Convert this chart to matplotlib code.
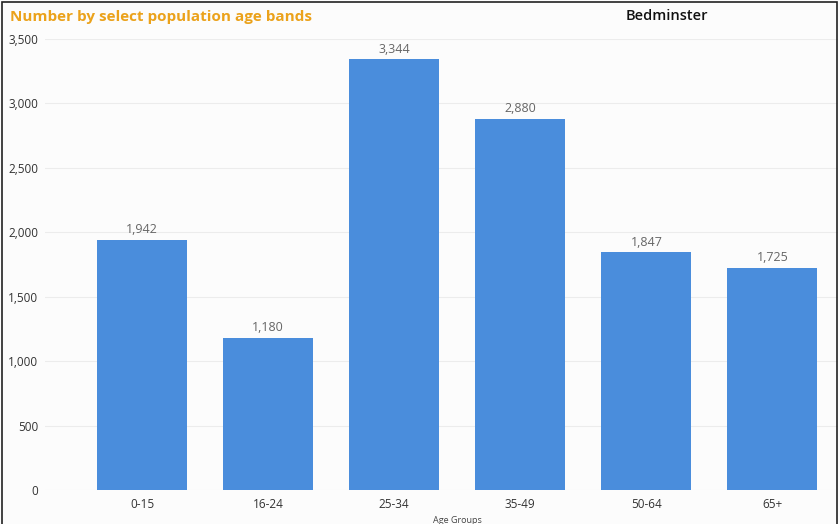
import matplotlib
matplotlib.use("Agg")
import matplotlib.pyplot as plt
from matplotlib.patches import Rectangle

categories = ["0-15", "16-24", "25-34", "35-49", "50-64", "65+"]
values = [1942, 1180, 3344, 2880, 1847, 1725]
yticks = [0, 500, 1000, 1500, 2000, 2500, 3000, 3500]

plt.rcParams['font.family'] = ['Open Sans', 'DejaVu Sans']

fig = plt.figure(figsize=(8.4, 5.24), dpi=100)
fig.patch.set_facecolor('#fcfcfc')
ax = fig.add_axes([45/840, 1-490/524, (838-45)/840, (490-39)/524])
ax.set_facecolor('#fcfcfc')

x = list(range(len(categories)))
ax.bar(x, values, width=0.714, color='#4a8ddc', zorder=3)
for xi, v in zip(x, values):
    ax.annotate(f"{v:,}", (xi, v), xytext=(0, 2.5), textcoords='offset points',
                ha='center', va='bottom', fontsize=9, color='#666666')

ax.set_xlim(-0.77, 5.52)
ax.set_ylim(0, 3500)
ax.set_yticks(yticks)
ax.set_yticklabels([f"{t:,}" for t in yticks])
ax.set_xticks(x)
ax.set_xticklabels(categories)
ax.tick_params(axis='both', length=0, labelsize=8.5, labelcolor='#333333')
ax.tick_params(axis='y', pad=5)
ax.tick_params(axis='x', pad=6)
ax.grid(axis='y', color='#ececec', lw=0.8, zorder=0)
for s in ax.spines.values():
    s.set_visible(False)

ax.text(2.5, -0.058, "Age Groups", transform=ax.get_xaxis_transform(),
        ha='center', va='top', fontsize=6.5, color='#444444')

fig.text(10/840, 1-17/524, "Number by select population age bands", ha='left', va='center',
         fontsize=11, fontweight='bold', color='#eba21b')
fig.text(667/840, 1-16/524, "Bedminster", ha='center', va='center',
         fontsize=10.5, fontweight='semibold', color='#111111')

fig.patches.append(Rectangle((2/840, -0.01), 835/840, 1-2/524+0.01, transform=fig.transFigure,
                             fill=False, edgecolor='#222222', lw=1.2))

fig.savefig("out.png", dpi=100, facecolor=fig.get_facecolor())
